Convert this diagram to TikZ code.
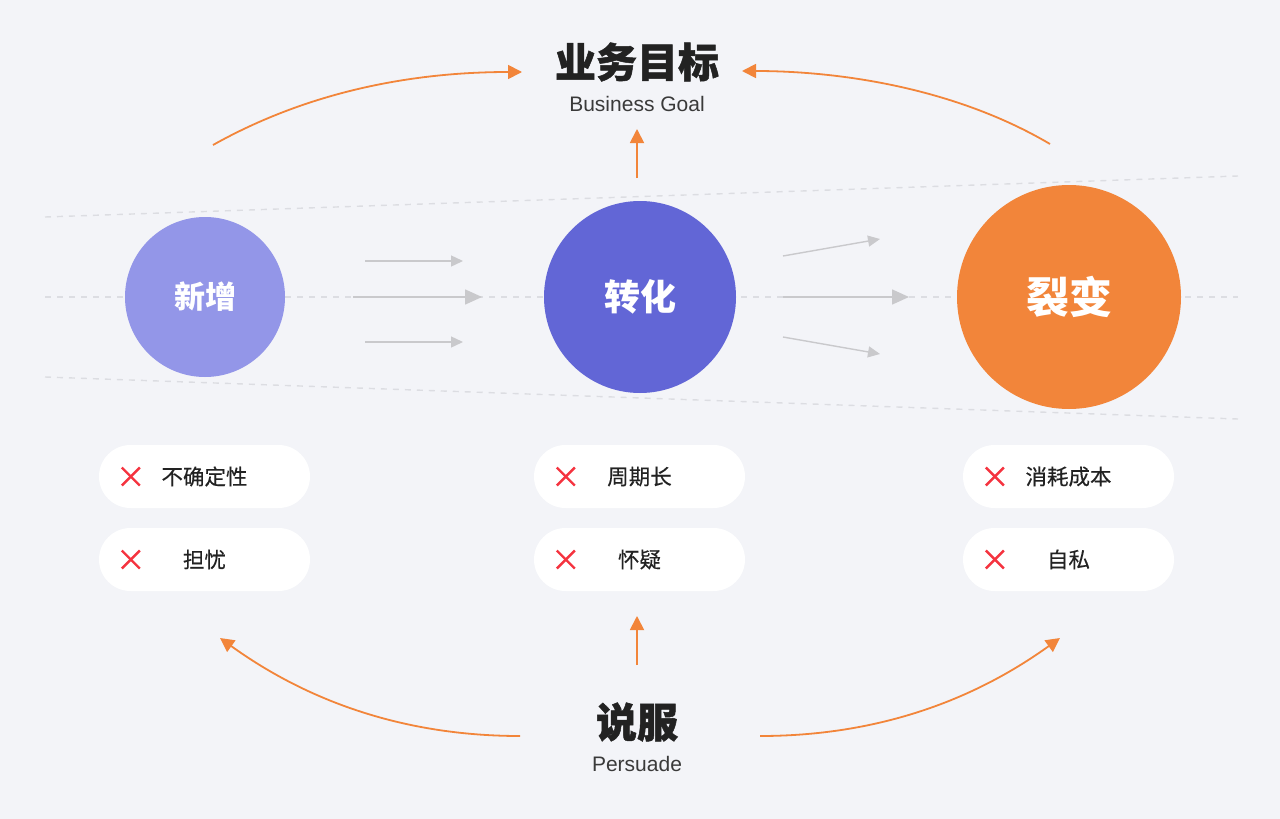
\documentclass[tikz,border=0pt]{standalone}
\usepackage{fontspec}
\newfontfamily\cjk{Noto Sans CJK SC}
\newfontfamily\cjkm{Noto Sans CJK SC}[FakeBold=0.35]
\newfontfamily\cjkh{Noto Sans CJK SC}[BoldFeatures={FakeBold=1.2}]
\newfontfamily\latn{Liberation Sans}
\usetikzlibrary{arrows.meta}
\definecolor{bg}{HTML}{F3F4F8}
\definecolor{cA}{HTML}{9396E8}
\definecolor{cB}{HTML}{6266D6}
\definecolor{cC}{HTML}{F2853A}
\definecolor{redx}{HTML}{F5333F}
\definecolor{dashc}{HTML}{DCDDE2}
\definecolor{grayarr}{HTML}{C9C9CC}
\definecolor{txt}{HTML}{222222}
\definecolor{subt}{HTML}{3A3A3A}
\tikzset{
  circ/.style={circle, inner sep=0pt, text=white},
  pill/.style={rectangle, rounded corners=31.5pt, fill=white, minimum width=211pt, minimum height=63pt, inner sep=0pt, text=txt, font=\cjkm\fontsize{21.5}{24}\selectfont},
  title/.style={text=txt, font=\cjkh\bfseries\fontsize{41}{44}\selectfont, inner sep=0pt},
  subtitle/.style={text=subt, font=\latn\fontsize{21}{24}\selectfont, inner sep=0pt},
  guide/.style={draw=dashc, line width=1.4pt, dash pattern=on 6pt off 6pt},
  flow/.style={draw=grayarr, line width=1.4pt, -{Triangle[length=12pt,width=11pt]}},
  bigflow/.style={draw=grayarr, line width=1.6pt, -{Triangle[length=17pt,width=15pt]}},
  orarr/.style={draw=cC, line width=1.8pt, -{Triangle[length=14pt,width=14pt]}},
  xmark/.style={draw=redx, line width=2.4pt},
}
\begin{document}
\begin{tikzpicture}[x=1pt,y=-1pt]
\fill[bg] (0,0) rectangle (1280,819);
\useasboundingbox (0,0) rectangle (1280,819);
% guide lines
\coordinate (g1a) at (45,217); \coordinate (g1b) at (1238,176);
\coordinate (g2a) at (45,297); \coordinate (g2b) at (1238,297);
\coordinate (g3a) at (45,377); \coordinate (g3b) at (1238,419);
\draw[guide] (g1a) -- (g1b);
\draw[guide] (g2a) -- (g2b);
\draw[guide] (g3a) -- (g3b);
% circles
\node[circ, fill=cA, minimum size=160pt, font=\cjk\bfseries\fontsize{31}{34}\selectfont] (xz) at (205,297) {新增};
\node[circ, fill=cB, minimum size=192pt, font=\cjk\bfseries\fontsize{36}{40}\selectfont] (zh) at (640,297) {转化};
\node[circ, fill=cC, minimum size=224pt, font=\cjk\bfseries\fontsize{43}{46}\selectfont] (lb) at (1069,297) {裂变};
% gray flow arrows
\coordinate (f1a) at (365,261); \coordinate (f1b) at (463,261);
\coordinate (f2a) at (353,297); \coordinate (f2b) at (482,297);
\coordinate (f3a) at (365,342); \coordinate (f3b) at (463,342);
\coordinate (f4a) at (783,256); \coordinate (f4b) at (880,239);
\coordinate (f5a) at (783,297); \coordinate (f5b) at (909,297);
\coordinate (f6a) at (783,337); \coordinate (f6b) at (880,354);
\draw[flow] (f1a) -- (f1b);
\draw[bigflow] (f2a) -- (f2b);
\draw[flow] (f3a) -- (f3b);
\draw[flow] (f4a) -- (f4b);
\draw[bigflow] (f5a) -- (f5b);
\draw[flow] (f6a) -- (f6b);
% titles
\node[title] (goal) at (637,62) {业务目标};
\node[subtitle] (goalen) at (637,104) {Business Goal};
\node[title] (ps) at (637,722) {说服};
\node[subtitle] (psen) at (637,764) {Persuade};
% orange arrows
\coordinate (up1a) at (637,178); \coordinate (up1b) at (637,129);
\draw[orarr] (up1a) -- (up1b);
\coordinate (up2a) at (637,665); \coordinate (up2b) at (637,616);
\draw[orarr] (up2a) -- (up2b);
\coordinate (tl) at (213,145); \coordinate (tlE) at (522,72);
\draw[orarr] (tl) .. controls (320,85) and (430,72) .. (tlE);
\coordinate (tr) at (1050,144); \coordinate (trE) at (742,71);
\draw[orarr] (tr) .. controls (955,88) and (840,71) .. (trE);
\coordinate (bl) at (520,736); \coordinate (blE) at (220,638);
\draw[orarr] (bl) .. controls (420,736) and (320,710) .. (blE);
\coordinate (br) at (760,736); \coordinate (brE) at (1060,638);
\draw[orarr] (br) .. controls (860,736) and (960,710) .. (brE);
% pills
\foreach \name/\cx/\cy/\t in {p1/204.5/476.5/不确定性, p2/204.5/559.5/担忧, p3/639.5/476.5/周期长, p4/639.5/559.5/怀疑, p5/1068.5/476.5/消耗成本, p6/1068.5/559.5/自私}{
  \node[pill] (\name) at (\cx,\cy) {\t};
  \draw[xmark] ([xshift=23pt,yshift=-9pt]\name.west) -- ([xshift=41pt,yshift=9pt]\name.west);
  \draw[xmark] ([xshift=23pt,yshift=9pt]\name.west) -- ([xshift=41pt,yshift=-9pt]\name.west);
}
\end{tikzpicture}
\end{document}
